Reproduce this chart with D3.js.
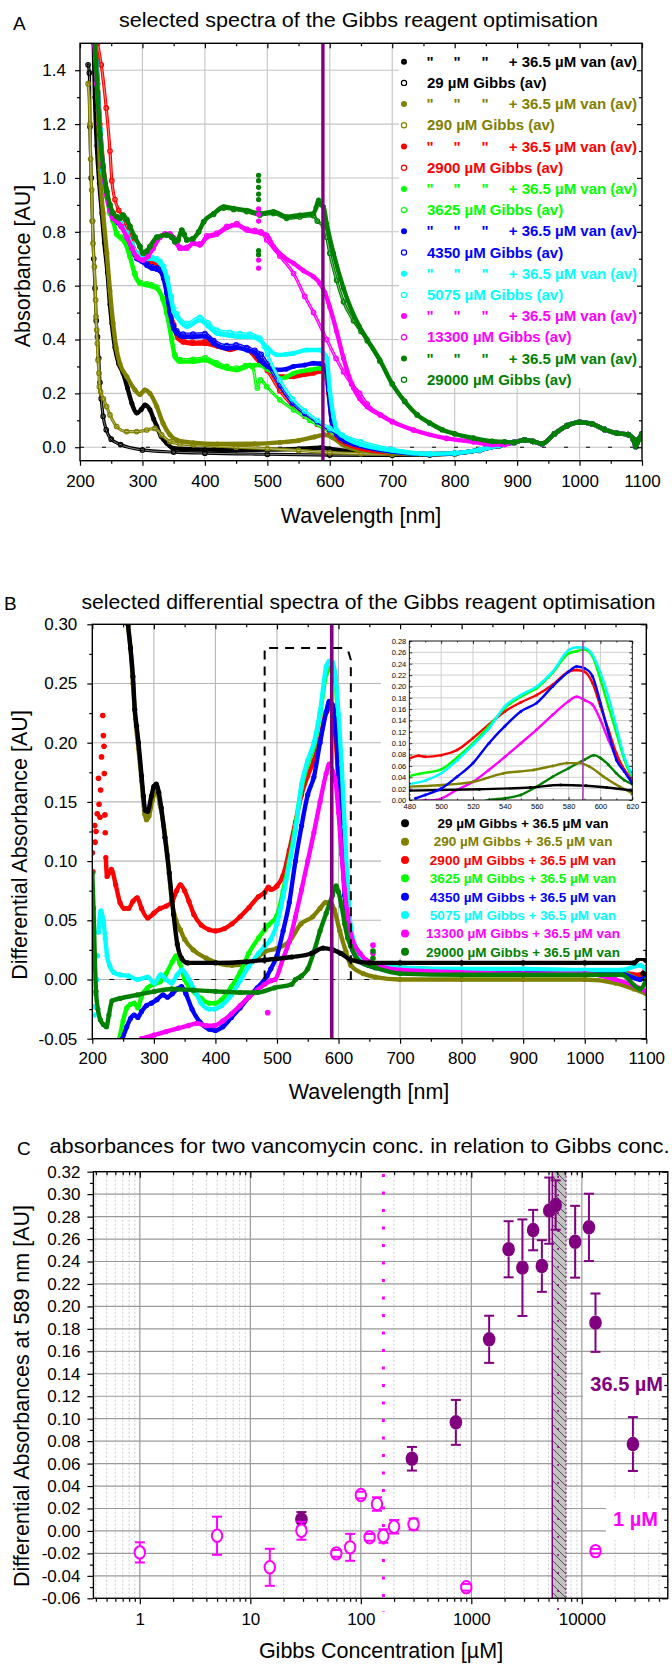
<!DOCTYPE html>
<html>
<head>
<meta charset="utf-8">
<script src="https://cdn.jsdelivr.net/npm/d3@7"></script>
<style>
  body { margin: 0; background: #fff; }
  svg text { font-family: "Liberation Sans", Arial, Helvetica, sans-serif; }
  .tk text { font-size: 17px; fill: #000; }
  .tk line { stroke: #000; stroke-width: 1.2; }
  .tks text { font-size: 7.5px; fill: #000; }
  .tks line { stroke: #000; stroke-width: 0.8; }
</style>
</head>
<body>
<script>
// ---------- shared series definitions ----------
const gibbsConc = [29, 290, 2900, 3625, 4350, 5075, 13300, 29000];
const seriesColors = ["#000000", "#808000", "#ff0000", "#00ff00", "#0000ff", "#00ffff", "#ff00ff", "#008000"];
const vanConc = 36.5;
const markWl = 589;

// ---------- panel A: absorbance spectra [wavelength nm, absorbance AU] ----------
// near-IR region where all sixteen spectra coincide
const nirShared = [[895,0.018],[912,0.027],[925,0.022],[940,0.013],[960,0.05],[980,0.08],[1000,0.093],[1020,0.087],[1040,0.066],[1060,0.052],[1078,0.047],[1086,0.03],[1090,0.003],[1095,0.03],[1100,0.05]];

const specVan29 = [[222,1.5],[224,1.3],[227,1.12],[231,0.98],[235,0.87],[239,0.76],[244,0.65],[248,0.53],[251,0.46],[256,0.37],[262,0.31],[269,0.275],[276,0.22],[283,0.163],[291,0.127],[298,0.14],[304,0.157],[312,0.139],[318,0.105],[323,0.077],[330,0.04],[339,0.015],[349,-0.004],[400,-0.009],[450,-0.01],[500,-0.009],[550,-0.006],[585,-0.002],[600,-0.006],[640,-0.016],[700,-0.022],[760,-0.026],[800,-0.023],[840,-0.01],[870,0.006]];
const specGibbs29 = [[213,1.42],[215,1.39],[216,1.19],[218,1.0],[220,0.84],[222,0.7],[224,0.59],[226,0.47],[228,0.41],[230,0.33],[232,0.24],[234,0.18],[237,0.115],[242,0.065],[250,0.03],[265,0.01],[300,-0.01],[350,-0.018],[400,-0.022],[500,-0.026],[600,-0.029],[700,-0.03],[760,-0.029],[800,-0.025],[840,-0.012],[870,0.004]];
const specVan290 = [[226,1.5],[229,1.25],[232,1.03],[237,0.87],[243,0.72],[248,0.58],[253,0.46],[258,0.37],[264,0.31],[275,0.262],[288,0.213],[296,0.196],[304,0.213],[312,0.2],[323,0.151],[333,0.089],[344,0.046],[355,0.027],[381,0.017],[420,0.012],[480,0.013],[520,0.018],[550,0.025],[575,0.038],[592,0.046],[605,0.035],[620,0.01],[650,-0.012],[700,-0.02],[760,-0.025],[800,-0.023],[840,-0.01],[870,0.006]];
const specGibbs290 = [[213,1.35],[216,1.2],[217,1.07],[218.7,0.955],[219.8,0.84],[220.8,0.757],[223,0.67],[225,0.547],[225.6,0.485],[226.7,0.435],[227.8,0.386],[228.8,0.324],[230.4,0.275],[231,0.225],[233,0.206],[237.4,0.18],[242.7,0.151],[248,0.12],[258.7,0.077],[274.7,0.058],[290.8,0.058],[306.8,0.064],[320,0.07],[330.8,0.046],[344,0.021],[360,0.012],[381.5,0.009],[450,0.0],[500,-0.005],[550,-0.012],[600,-0.02],[650,-0.024],[700,-0.026],[760,-0.027],[800,-0.024],[840,-0.011],[870,0.005]];
const specVan2900 = [[225,1.5],[228,1.36],[232,1.2],[237,1.05],[243,0.95],[248,0.89],[253,0.86],[260,0.845],[266,0.83],[275,0.795],[283,0.75],[291,0.71],[299,0.695],[307,0.69],[315,0.685],[323,0.68],[328,0.67],[334,0.635],[339,0.58],[344,0.51],[350,0.45],[357,0.405],[365,0.39],[380,0.385],[400,0.385],[420,0.375],[440,0.362],[456,0.37],[470,0.36],[488,0.315],[500,0.29],[510,0.27],[525,0.262],[542,0.262],[560,0.27],[574,0.275],[585,0.282],[590,0.28],[595,0.255],[598,0.2],[603,0.1],[608,0.055],[615,0.03],[625,0.015],[650,-0.005],[700,-0.02],[760,-0.026],[800,-0.023],[840,-0.01],[870,0.006]];
const specGibbs2900 = [[228,1.5],[234,1.42],[242,1.26],[248,1.1],[251,0.99],[256,0.92],[262,0.88],[268,0.86],[275,0.82],[283,0.765],[291,0.72],[299,0.7],[307,0.695],[315,0.69],[323,0.685],[328,0.675],[334,0.64],[339,0.585],[344,0.515],[350,0.455],[357,0.41],[365,0.395],[380,0.39],[400,0.392],[420,0.382],[440,0.37],[456,0.375],[470,0.365],[480,0.35],[490,0.32],[500,0.285],[520,0.21],[540,0.155],[560,0.115],[580,0.085],[600,0.058],[620,0.035],[650,0.01],[700,-0.015],[760,-0.025],[800,-0.022],[840,-0.01],[870,0.006]];
const specVan3625 = [[224,1.5],[228,1.34],[232,1.17],[237,1.02],[243,0.93],[248,0.87],[253,0.84],[259,0.79],[266,0.775],[272,0.76],[280,0.707],[288,0.64],[296,0.608],[307,0.602],[315,0.598],[323,0.59],[333,0.547],[339,0.497],[347,0.398],[352,0.336],[360,0.318],[381,0.318],[400,0.324],[419,0.305],[435,0.293],[451,0.287],[465,0.298],[472,0.305],[488,0.305],[500,0.29],[510,0.275],[520,0.255],[530,0.26],[542,0.275],[568,0.287],[584,0.293],[590,0.283],[595,0.26],[598,0.225],[603,0.126],[611,0.052],[622,0.027],[648,0.009],[700,-0.018],[760,-0.026],[800,-0.023],[840,-0.01],[870,0.006]];
const specGibbs3625 = [[224,1.5],[228,1.34],[232,1.17],[237,1.02],[243,0.93],[248,0.87],[253,0.84],[259,0.795],[266,0.78],[272,0.765],[280,0.712],[288,0.645],[296,0.612],[307,0.607],[315,0.603],[323,0.595],[333,0.552],[339,0.502],[347,0.405],[352,0.343],[360,0.325],[381,0.326],[400,0.332],[419,0.313],[435,0.3],[451,0.294],[465,0.303],[476,0.3],[484,0.22],[489,0.25],[499,0.225],[520,0.176],[542,0.139],[568,0.1],[590,0.07],[622,0.033],[648,0.015],[700,-0.012],[760,-0.025],[800,-0.023],[840,-0.01],[870,0.006]];
const specVan4350 = [[224,1.5],[228,1.35],[232,1.18],[237,1.03],[243,0.94],[248,0.885],[253,0.855],[260,0.835],[266,0.82],[275,0.785],[283,0.74],[291,0.7],[299,0.69],[307,0.675],[315,0.665],[323,0.66],[328,0.655],[334,0.625],[339,0.57],[344,0.5],[350,0.44],[355,0.423],[365,0.41],[381,0.41],[400,0.412],[414,0.386],[435,0.367],[450,0.37],[467,0.361],[480,0.35],[488,0.324],[500,0.3],[515,0.287],[530,0.29],[542,0.3],[560,0.305],[574,0.312],[585,0.31],[590,0.305],[595,0.28],[598,0.213],[603,0.1],[611,0.046],[625,0.022],[640,0.01],[700,-0.016],[760,-0.026],[800,-0.023],[840,-0.01],[870,0.006]];
const specGibbs4350 = [[224,1.5],[228,1.35],[232,1.18],[237,1.03],[243,0.94],[248,0.885],[253,0.86],[260,0.84],[266,0.825],[275,0.79],[283,0.745],[291,0.705],[299,0.695],[307,0.68],[315,0.67],[323,0.665],[328,0.66],[334,0.63],[339,0.575],[344,0.508],[350,0.448],[355,0.432],[365,0.42],[381,0.42],[400,0.422],[414,0.396],[435,0.377],[450,0.38],[467,0.37],[480,0.36],[490,0.345],[500,0.31],[520,0.23],[540,0.165],[560,0.125],[580,0.095],[600,0.065],[620,0.04],[650,0.015],[700,-0.01],[760,-0.025],[800,-0.022],[840,-0.01],[870,0.006]];
const specVan5075 = [[224,1.5],[228,1.35],[232,1.18],[237,1.03],[243,0.94],[248,0.885],[253,0.86],[260,0.84],[266,0.825],[275,0.79],[283,0.75],[291,0.715],[299,0.705],[307,0.7],[315,0.7],[323,0.695],[328,0.685],[334,0.665],[340,0.62],[346,0.55],[350,0.505],[355,0.485],[371,0.448],[392,0.472],[405,0.45],[419,0.423],[440,0.415],[456,0.41],[472,0.41],[488,0.398],[500,0.37],[515,0.343],[530,0.345],[542,0.349],[563,0.361],[584,0.361],[590,0.35],[595,0.33],[600,0.213],[606,0.114],[611,0.064],[627,0.033],[650,0.01],[700,-0.012],[760,-0.025],[800,-0.022],[840,-0.01],[870,0.006]];
const specGibbs5075 = [[224,1.5],[228,1.35],[232,1.18],[237,1.03],[243,0.94],[248,0.885],[253,0.86],[260,0.845],[266,0.83],[275,0.795],[283,0.755],[291,0.72],[299,0.71],[307,0.705],[315,0.705],[323,0.7],[328,0.69],[334,0.672],[340,0.628],[346,0.56],[350,0.515],[355,0.495],[371,0.46],[392,0.482],[405,0.462],[419,0.435],[440,0.427],[456,0.422],[472,0.42],[488,0.405],[495,0.375],[500,0.345],[520,0.25],[540,0.18],[560,0.135],[580,0.1],[600,0.07],[620,0.045],[650,0.02],[700,-0.008],[760,-0.024],[800,-0.022],[840,-0.01],[870,0.006]];
const specVan13300 = [[223,1.5],[227,1.35],[231,1.2],[236,1.05],[242,0.94],[248,0.88],[253,0.85],[259,0.84],[266,0.82],[275,0.78],[283,0.74],[291,0.707],[301,0.695],[309,0.71],[317,0.738],[328,0.78],[336,0.79],[344,0.79],[350,0.775],[355,0.757],[360,0.738],[371,0.738],[381,0.757],[392,0.75],[403,0.78],[419,0.79],[435,0.815],[451,0.825],[467,0.806],[480,0.8],[490,0.795],[499,0.788],[510,0.745],[526,0.707],[542,0.683],[558,0.655],[574,0.633],[584,0.609],[592,0.575],[600,0.52],[611,0.43],[622,0.33],[638,0.22],[648,0.18],[660,0.15],[681,0.12],[700,0.095],[734,0.064],[787,0.033],[830,0.02],[860,0.01],[880,0.01]];
const specGibbs13300 = [[223,1.5],[227,1.35],[231,1.2],[236,1.05],[242,0.94],[248,0.88],[253,0.85],[259,0.84],[266,0.82],[275,0.78],[283,0.74],[291,0.707],[301,0.695],[309,0.71],[317,0.738],[328,0.78],[336,0.792],[344,0.792],[350,0.778],[355,0.76],[360,0.742],[371,0.742],[381,0.76],[392,0.755],[403,0.785],[419,0.795],[435,0.82],[451,0.83],[467,0.81],[480,0.805],[490,0.8],[499,0.77],[520,0.71],[542,0.645],[560,0.56],[574,0.5],[595,0.4],[610,0.33],[622,0.28],[635,0.235],[648,0.2],[660,0.16],[681,0.12],[700,0.095],[734,0.064],[787,0.033],[830,0.02],[860,0.01],[880,0.01]];
const specVan29000 = [[224,1.5],[228,1.32],[232,1.16],[237,1.04],[243,0.95],[248,0.9],[253,0.87],[259,0.856],[264,0.85],[269,0.862],[275,0.845],[280,0.82],[288,0.78],[296,0.745],[301,0.72],[307,0.728],[312,0.745],[323,0.78],[339,0.788],[347,0.78],[352,0.763],[357,0.77],[363,0.806],[367,0.79],[371,0.77],[381,0.775],[390,0.8],[398,0.837],[414,0.868],[430,0.893],[446,0.887],[467,0.88],[488,0.868],[510,0.875],[531,0.856],[552,0.862],[574,0.868],[578,0.89],[582,0.918],[586,0.9],[590,0.893],[595,0.83],[606,0.72],[622,0.59],[647,0.45],[660,0.4],[680,0.325],[700,0.235],[720,0.17],[740,0.12],[760,0.09],[780,0.065],[800,0.05],[830,0.034],[860,0.022],[880,0.02]];
const specGibbs29000 = [[224,1.5],[228,1.32],[232,1.16],[237,1.04],[243,0.95],[248,0.9],[253,0.87],[259,0.856],[264,0.85],[269,0.862],[275,0.845],[280,0.82],[288,0.78],[296,0.745],[301,0.72],[307,0.728],[312,0.745],[323,0.78],[339,0.788],[347,0.78],[352,0.763],[357,0.77],[363,0.806],[367,0.79],[371,0.77],[381,0.775],[390,0.8],[398,0.837],[414,0.865],[430,0.888],[446,0.883],[467,0.875],[488,0.862],[510,0.868],[531,0.85],[552,0.855],[574,0.86],[580,0.84],[590,0.82],[595,0.78],[600,0.72],[611,0.62],[622,0.54],[638,0.47],[650,0.43],[660,0.395],[680,0.32],[700,0.235],[720,0.17],[740,0.12],[760,0.09],[780,0.065],[800,0.05],[830,0.034],[860,0.022],[880,0.02]];
// detector glitch at 486 nm
const glitchA29000 = [[486,1.01],[486,0.99],[486,0.965],[486,0.94],[486,0.92],[486,0.73],[486,0.715]];
const glitchA13300 = [[486,0.885],[486,0.865],[486,0.84],[486,0.695],[486,0.665]];

// ---------- panel B: differential spectra [wavelength nm, dAbs AU] ----------
const diff29 = [[254,0.33],[258,0.3],[262,0.28],[266,0.256],[269,0.228],[272,0.214],[275,0.2],[280,0.172],[283,0.155],[286,0.143],[290,0.142],[296,0.155],[300,0.163],[304,0.165],[308,0.158],[312,0.145],[318,0.12],[325,0.09],[332,0.055],[338,0.03],[345,0.018],[355,0.014],[400,0.014],[450,0.015],[480,0.0165],[524,0.019],[556,0.022],[575,0.0265],[591,0.025],[604,0.022],[620,0.0165],[650,0.014],[700,0.014],[800,0.014],[900,0.014],[1000,0.014],[1080,0.014],[1090,0.018],[1100,0.016]];
const diff290 = [[252,0.33],[258,0.3],[262,0.28],[266,0.25],[270,0.22],[275,0.195],[280,0.168],[285,0.14],[288,0.135],[292,0.138],[298,0.152],[304,0.16],[310,0.148],[316,0.13],[322,0.105],[329,0.067],[336,0.05],[343,0.042],[350,0.034],[364,0.025],[385,0.018],[427,0.012],[460,0.015],[480,0.0235],[499,0.026],[520,0.032],[539,0.047],[558,0.053],[570,0.06],[579,0.065],[587,0.065],[593,0.059],[602,0.041],[612,0.0235],[620,0.012],[640,0.005],[660,0.002],[700,0.0],[800,0.0],[900,0.0],[1000,0.0],[1050,-0.003],[1080,-0.008],[1100,-0.012]];
const diff2900 = [[222,0.103],[224,0.087],[231,0.093],[238,0.08],[245,0.065],[252,0.06],[259,0.06],[266,0.066],[273,0.069],[280,0.06],[290,0.052],[300,0.056],[310,0.06],[320,0.062],[330,0.066],[337,0.075],[343,0.08],[350,0.075],[357,0.066],[365,0.055],[377,0.046],[390,0.042],[400,0.041],[415,0.043],[427,0.047],[440,0.053],[455,0.061],[470,0.07],[480,0.0735],[486,0.078],[490,0.076],[500,0.079],[510,0.088],[520,0.109],[530,0.133],[540,0.156],[550,0.172],[560,0.185],[570,0.203],[580,0.226],[585,0.229],[590,0.226],[595,0.206],[600,0.165],[605,0.124],[610,0.082],[615,0.053],[620,0.032],[635,0.018],[660,0.012],[700,0.01],[800,0.008],[900,0.007],[1000,0.007],[1060,0.006],[1090,0.004],[1100,0.01]];
const scatter2900 = [[200,0.107],[201,0.091],[204,0.13],[204.5,0.116],[206,0.125],[208,0.14],[210,0.17],[211,0.148],[212.5,0.137],[213.5,0.16],[215,0.188],[217,0.223],[218,0.206],[219,0.197],[219.5,0.174],[220.5,0.139],[221,0.124]];
const diff3625 = [[244,-0.05],[250,-0.035],[256,-0.024],[262,-0.021],[268,-0.02],[274,-0.024],[280,-0.014],[290,-0.007],[300,-0.004],[310,-0.002],[320,0.005],[330,0.015],[336,0.02],[342,0.014],[350,0.0],[360,-0.008],[377,-0.016],[390,-0.02],[400,-0.02],[410,-0.017],[426,-0.006],[440,0.006],[454,0.022],[470,0.035],[480,0.042],[486,0.046],[500,0.054],[510,0.075],[520,0.1],[530,0.13],[540,0.162],[550,0.182],[560,0.197],[570,0.224],[580,0.258],[585,0.262],[590,0.265],[595,0.253],[600,0.212],[605,0.165],[610,0.118],[615,0.071],[620,0.041],[630,0.025],[650,0.015],[700,0.01],[800,0.008],[900,0.007],[1000,0.007],[1060,0.006],[1090,0.0],[1100,0.005]];
const diff4350 = [[249,-0.05],[256,-0.04],[262,-0.033],[268,-0.03],[274,-0.032],[280,-0.027],[288,-0.022],[296,-0.02],[305,-0.017],[315,-0.013],[322,-0.015],[330,-0.012],[338,-0.008],[345,-0.006],[352,-0.012],[362,-0.025],[375,-0.036],[390,-0.042],[400,-0.043],[412,-0.04],[426,-0.032],[440,-0.024],[454,-0.015],[468,-0.007],[484,0.003],[490,0.009],[500,0.02],[510,0.041],[520,0.065],[530,0.1],[540,0.13],[550,0.156],[560,0.171],[570,0.2],[580,0.226],[585,0.235],[590,0.232],[595,0.218],[600,0.171],[605,0.118],[610,0.071],[615,0.05],[620,0.029],[635,0.015],[660,0.01],[700,0.007],[800,0.006],[900,0.006],[1000,0.006],[1060,0.005],[1090,0.0],[1100,0.004]];
const diff5075 = [[210,0.04],[214,0.058],[218,0.05],[221,0.035],[224,0.02],[228,0.012],[235,0.006],[245,0.004],[259,0.003],[273,0.0],[290,0.002],[301,-0.003],[311,0.004],[320,0.0],[329,-0.003],[338,0.004],[346,0.008],[357,0.0],[367,-0.01],[377,-0.02],[390,-0.025],[398,-0.025],[410,-0.022],[426,-0.013],[440,-0.001],[454,0.011],[470,0.022],[480,0.028],[490,0.034],[500,0.047],[510,0.07],[520,0.097],[530,0.126],[540,0.165],[550,0.185],[560,0.2],[570,0.226],[580,0.264],[585,0.269],[590,0.268],[595,0.256],[600,0.224],[605,0.182],[610,0.129],[615,0.076],[620,0.044],[635,0.02],[660,0.012],[700,0.01],[800,0.009],[900,0.009],[1000,0.008],[1060,0.008],[1090,0.012],[1100,0.008]];
const scatter5075 = [[201,-0.023],[203,-0.03],[205,-0.012],[207,0.0],[208,0.02]];
const diff13300 = [[280,-0.05],[300,-0.047],[320,-0.044],[340,-0.041],[356,-0.039],[370,-0.037],[385,-0.039],[398,-0.039],[412,-0.035],[426,-0.029],[440,-0.022],[454,-0.015],[468,-0.009],[480,-0.004],[490,-0.001],[497,0.0],[510,0.018],[520,0.032],[530,0.053],[540,0.076],[550,0.1],[560,0.124],[570,0.15],[580,0.174],[585,0.182],[590,0.176],[595,0.168],[600,0.141],[605,0.106],[610,0.076],[615,0.053],[620,0.038],[635,0.022],[650,0.015],[700,0.008],[800,0.006],[900,0.005],[1000,0.005],[1050,0.0],[1080,-0.005],[1100,-0.01]];
const scatter13300 = [[485,-0.028],[656,0.029],[656,0.022]];
const diff29000 = [[200,0.09],[202,0.06],[204,0.02],[206,-0.01],[209,-0.025],[213,-0.034],[218,-0.038],[223,-0.04],[227,-0.03],[232,-0.018],[245,-0.016],[273,-0.013],[301,-0.01],[329,-0.008],[364,-0.009],[400,-0.01],[440,-0.011],[468,-0.011],[496,-0.007],[524,-0.004],[530,0.0],[540,0.003],[550,0.009],[560,0.0235],[570,0.041],[580,0.056],[590,0.071],[596,0.079],[600,0.074],[605,0.062],[610,0.047],[615,0.035],[620,0.028],[635,0.015],[660,0.01],[700,0.005],[800,0.004],[900,0.004],[1000,0.004],[1060,0.004],[1090,-0.008],[1100,0.0]];
const scatter29000 = [[656,0.024],[656,0.018]];
const scatter29 = [[1088,0.02],[1092,0.025],[1095,0.005],[1098,0.022]];

// ---------- panel C: dAbs at 589 nm vs Gibbs concentration ----------
const concVan36 = [29, 290, 725, 1450, 2175, 2900, 3625, 4350, 5075, 5800, 8700, 11600, 13300, 29000];
const absVan36  = [0.0103, 0.0643, 0.0967, 0.1707, 0.2509, 0.2345, 0.268, 0.236, 0.2853, 0.2903, 0.2576, 0.2704, 0.1855, 0.0774];
const errVan36  = [0.0065, 0.0105, 0.020, 0.021, 0.025, 0.043, 0.018, 0.023, 0.0295, 0.022, 0.032, 0.030, 0.026, 0.024];
const concVan1 = [1, 5, 15, 29, 60, 80, 100, 120, 140, 160, 200, 300, 900, 13300];
const absVan1  = [-0.0191, -0.0043, -0.0324, 0.0002, -0.020, -0.0146, 0.032, -0.0057, 0.024, -0.0045, 0.0037, 0.006, -0.0502, -0.018];
const errVan1  = [0.009, 0.017, 0.0165, 0.008, 0.003, 0.012, 0.003, 0.003, 0.006, 0.006, 0.006, 0.005, 0.003, 0.002];
const optimumBand = [5400, 7200];
const optimumCentre = 6100;
const thresholdConc = 160;

// ---------- drawing helpers ----------
const svg = d3.select("body").append("svg").attr("width", 672).attr("height", 1666);
const defs = svg.append("defs");

function clip(id, x0, y0, x1, y1) {
  defs.append("clipPath").attr("id", id).append("rect")
    .attr("x", x0).attr("y", y0).attr("width", x1 - x0).attr("height", y1 - y0);
  return `url(#${id})`;
}

function addText(g, x, y, str, o = {}) {
  const t = g.append("text").attr("x", x).attr("y", y).text(str)
    .attr("font-size", o.size || 17).attr("fill", o.fill || "#000")
    .attr("text-anchor", o.anchor || "start");
  if (o.bold) t.attr("font-weight", "bold");
  if (o.len) t.attr("textLength", o.len).attr("lengthAdjust", "spacingAndGlyphs");
  if (o.rot) t.attr("transform", `rotate(${o.rot},${x},${y})`);
  return t;
}

function plotSeries(layer, data, sx, sy, color, st) {
  const line = d3.line().x(d => sx(d[0])).y(d => sy(d[1])).curve(d3.curveMonotoneX);
  layer.append("path").attr("d", line(data)).attr("fill", "none").attr("stroke", color)
    .attr("stroke-width", st.w).attr("stroke-linejoin", "round").attr("stroke-linecap", "round");
  if (st.core) {
    layer.append("path").attr("d", line(data)).attr("fill", "none").attr("stroke", "#fff")
      .attr("stroke-opacity", 0.5).attr("stroke-width", st.core);
  }
  plotDots(layer, data, sx, sy, color, st);
}

function plotDots(layer, data, sx, sy, color, st) {
  layer.append("g").selectAll("circle").data(data).join("circle")
    .attr("cx", d => sx(d[0])).attr("cy", d => sy(d[1])).attr("r", st.r)
    .attr("fill", st.hollow ? "none" : color)
    .attr("stroke", st.hollow ? color : "none").attr("stroke-width", 1.1);
}

function axes(g, sx, sy, o) {
  const [x0, x1] = sx.range(), [yb, yt] = sy.range();
  const strip = s => s.select(".domain").remove();
  const cls = o.small ? "tks" : "tk";
  const T = o.tick, t = o.minorTick;
  g.append("g").attr("class", cls).attr("transform", `translate(0,${yb})`)
    .call(d3.axisBottom(sx).tickValues(o.xMajor).tickSize(o.xOut ? T : -T).tickPadding(o.xPad).tickFormat(o.xFmt)).call(strip);
  g.append("g").attr("class", cls).attr("transform", `translate(0,${yb})`)
    .call(d3.axisBottom(sx).tickValues(o.xMinor).tickSize(o.xOut ? t : -t).tickFormat("")).call(strip);
  g.append("g").attr("class", cls).attr("transform", `translate(0,${yt})`)
    .call(d3.axisTop(sx).tickValues(o.xMajor).tickSize(-T).tickFormat("")).call(strip);
  g.append("g").attr("class", cls).attr("transform", `translate(0,${yt})`)
    .call(d3.axisTop(sx).tickValues(o.xMinor).tickSize(-t).tickFormat("")).call(strip);
  g.append("g").attr("class", cls).attr("transform", `translate(${x0},0)`)
    .call(d3.axisLeft(sy).tickValues(o.yMajor).tickSize(o.yOut ? T : -T).tickPadding(o.yPad).tickFormat(o.yFmt)).call(strip);
  g.append("g").attr("class", cls).attr("transform", `translate(${x0},0)`)
    .call(d3.axisLeft(sy).tickValues(o.yMinor).tickSize(o.yOut ? t : -t).tickFormat("")).call(strip);
  g.append("g").attr("class", cls).attr("transform", `translate(${x1},0)`)
    .call(d3.axisRight(sy).tickValues(o.yMajor).tickSize(-T).tickFormat("")).call(strip);
  g.append("g").attr("class", cls).attr("transform", `translate(${x1},0)`)
    .call(d3.axisRight(sy).tickValues(o.yMinor).tickSize(-t).tickFormat("")).call(strip);
  g.append("rect").attr("x", x0).attr("y", yt).attr("width", x1 - x0).attr("height", yb - yt)
    .attr("fill", "none").attr("stroke", "#000").attr("stroke-width", o.small ? 0.9 : 1.4);
}

function grid(g, sx, sy, xs, ys, color, width, dash) {
  const [x0, x1] = sx.range(), [yb, yt] = sy.range();
  g.append("g").selectAll("line").data(xs).join("line")
    .attr("x1", d => sx(d)).attr("x2", d => sx(d)).attr("y1", yt).attr("y2", yb)
    .attr("stroke", color).attr("stroke-width", width).attr("stroke-dasharray", dash || null);
  g.append("g").selectAll("line").data(ys).join("line")
    .attr("y1", d => sy(d)).attr("y2", d => sy(d)).attr("x1", x0).attr("x2", x1)
    .attr("stroke", color).attr("stroke-width", width).attr("stroke-dasharray", dash || null);
}

const nm = d3.range(200, 1101, 100);
const nmMinor = d3.range(250, 1100, 100);
const f1 = d => d.toFixed(1), f2 = d => d.toFixed(2);

// =================== PANEL A ===================
const xA = d3.scaleLinear([200, 1100], [80, 642]);
const yA = d3.scaleLinear([-0.05, 1.5], [460.7, 43.3]);
const gA = svg.append("g");
grid(gA, xA, yA, d3.range(300, 1001, 100), d3.range(0, 8).map(i => i * 0.2), "#c4c4c4", 1.1);
gA.append("line").attr("x1", xA(200)).attr("x2", xA(1100)).attr("y1", yA(0)).attr("y2", yA(0))
  .attr("stroke", "#000").attr("stroke-width", 1).attr("stroke-dasharray", "4,18");

const dataA = gA.append("g").attr("clip-path", clip("clipA", 80, 43.3, 642, 460.7));
const pairsA = [
  [specGibbs29, specVan29], [specGibbs290, specVan290], [specGibbs2900, specVan2900],
  [specGibbs3625, specVan3625], [specGibbs4350, specVan4350], [specGibbs5075, specVan5075],
  [specGibbs13300, specVan13300], [specGibbs29000, specVan29000]
];
pairsA.forEach(([open, filled], i) => {
  const c = seriesColors[i];
  plotSeries(dataA, open.concat(nirShared), xA, yA, c, { w: 3.2, core: 1.0, r: 2.3, hollow: true });
  plotSeries(dataA, filled.concat(nirShared), xA, yA, c, { w: 4.4, r: 2.5 });
});
plotDots(dataA, glitchA13300, xA, yA, seriesColors[6], { r: 2.6 });
plotDots(dataA, glitchA29000, xA, yA, seriesColors[7], { r: 2.6 });
dataA.append("line").attr("x1", xA(markWl)).attr("x2", xA(markWl)).attr("y1", 43.3).attr("y2", 460.7)
  .attr("stroke", "#800080").attr("stroke-width", 3.4);

// legend A
const legA = gA.append("g");
legA.append("rect").attr("x", 399).attr("y", 44).attr("width", 242).attr("height", 344).attr("fill", "#fff");
gibbsConc.forEach((conc, i) => {
  const c = seriesColors[i];
  const yv = 61.7 + (2 * i) * 21.2, yg = yv + 21.2;
  legA.append("circle").attr("cx", 404).attr("cy", yv).attr("r", 3).attr("fill", c);
  [430, 457, 485].forEach(qx => addText(legA, qx, yv + 5, "\"", { size: 15, bold: true, fill: c, anchor: "middle" }));
  addText(legA, 637, yv + 5, `+ ${vanConc} µM van (av)`, { size: 15, bold: true, fill: c, anchor: "end" });
  legA.append("circle").attr("cx", 404).attr("cy", yg).attr("r", 2.6).attr("fill", "none").attr("stroke", c).attr("stroke-width", 1.2);
  addText(legA, 427, yg + 5, `${conc} µM Gibbs (av)`, { size: 15, bold: true, fill: c });
});

axes(gA, xA, yA, {
  tick: 5, minorTick: 3, xOut: true, yOut: true, xPad: 9, yPad: 9,
  xMajor: nm, xMinor: nmMinor, xFmt: d => d,
  yMajor: d3.range(0, 8).map(i => i * 0.2), yMinor: d3.range(0, 15).map(i => i * 0.2 + 0.1).filter(v => v < 1.5), yFmt: f1
});
addText(svg, 13, 30, "A", { size: 19 });
addText(svg, 119, 27, "selected spectra of the Gibbs reagent optimisation", { size: 21, len: 479 });
addText(svg, 361, 523, "Wavelength [nm]", { size: 21.5, anchor: "middle" });
addText(svg, 30, 266, "Absorbance [AU]", { size: 21.5, anchor: "middle", rot: -90 });

// =================== PANEL B ===================
const xB = d3.scaleLinear([200, 1100], [92.3, 646.3]);
const yB = d3.scaleLinear([-0.05, 0.30], [1038.7, 624.3]);
const gB = svg.append("g");
grid(gB, xB, yB, d3.range(300, 1001, 100), d3.range(0, 6).map(i => i * 0.05), "#b8b8b8", 1.1);
gB.append("line").attr("x1", xB(200)).attr("x2", xB(720)).attr("y1", yB(0)).attr("y2", yB(0))
  .attr("stroke", "#000").attr("stroke-width", 1.2).attr("stroke-dasharray", "5,12");

const diffSeries = [diff29, diff290, diff2900, diff3625, diff4350, diff5075, diff13300, diff29000];
const scattersB = [scatter29, [], scatter2900, [], [], scatter5075, scatter13300, scatter29000];
const dataB = gB.append("g").attr("clip-path", clip("clipB", 92.3, 624.3, 646.3, 1038.7));
// black is drawn last so it sits on top, as in the original plot
[1, 2, 3, 4, 5, 6, 7, 0].forEach(i => {
  plotSeries(dataB, diffSeries[i], xB, yB, seriesColors[i], { w: 4.4, r: 2.6 });
  plotDots(dataB, scattersB[i], xB, yB, seriesColors[i], { r: 2.8 });
});
dataB.append("line").attr("x1", xB(markWl)).attr("x2", xB(markWl)).attr("y1", 624.3).attr("y2", 1038.7)
  .attr("stroke", "#800080").attr("stroke-width", 3.6);
// zoom window marker
gB.append("path")
  .attr("d", `M${xB(480)},${yB(0)} V${yB(0.28)} H${xB(612)} M${xB(616)},${yB(0.277)} L${xB(620)},${yB(0.27)} V${yB(0)}`)
  .attr("fill", "none").attr("stroke", "#000").attr("stroke-width", 2).attr("stroke-dasharray", "9,7");

// legend / inset area
gB.append("rect").attr("x", 381).attr("y", 625).attr("width", 264.5).attr("height", 333).attr("fill", "#fff");
axes(gB, xB, yB, {
  tick: 5, minorTick: 3, xOut: true, yOut: true, xPad: 8, yPad: 10,
  xMajor: nm, xMinor: nmMinor, xFmt: d => d,
  yMajor: d3.range(-1, 7).map(i => i * 0.05), yMinor: d3.range(-1, 6).map(i => i * 0.05 + 0.025), yFmt: f2
});

// inset: 480-620 nm
const xI = d3.scaleLinear([480, 620], [409.3, 632.3]);
const yI = d3.scaleLinear([0, 0.28], [800, 641]);
const gI = gB.append("g");
grid(gI, xI, yI, d3.range(500, 601, 20), d3.range(1, 14).map(i => i * 0.02), "#cfcfcf", 1);
const dataI = gI.append("g").attr("clip-path", clip("clipI", 409.3, 641, 632.3, 800));
[7, 6, 1, 0, 2, 4, 3, 5].forEach(i => {
  const part = diffSeries[i].filter(d => d[0] >= 470 && d[0] <= 630);
  plotSeries(dataI, part, xI, yI, seriesColors[i], { w: 2.4, r: 1.5 });
});
dataI.append("line").attr("x1", xI(markWl)).attr("x2", xI(markWl)).attr("y1", 641).attr("y2", 800)
  .attr("stroke", "#a040a8").attr("stroke-width", 1.6);
axes(gI, xI, yI, {
  small: true, tick: 3, minorTick: 1.5, xOut: false, yOut: false, xPad: 4, yPad: 3,
  xMajor: d3.range(480, 621, 20), xMinor: d3.range(490, 620, 20), xFmt: d => d,
  yMajor: d3.range(0, 15).map(i => i * 0.02), yMinor: d3.range(0, 14).map(i => i * 0.02 + 0.01), yFmt: f2
});

// legend B
const legB = gB.append("g");
gibbsConc.forEach((conc, i) => {
  const cy = 823.3 + i * 18.35;
  legB.append("circle").attr("cx", 405).attr("cy", cy).attr("r", 4).attr("fill", seriesColors[i]);
  addText(legB, 523, cy + 4.8, `${conc} µM Gibbs + ${vanConc} µM van`, { size: 13.5, bold: true, fill: seriesColors[i], anchor: "middle" });
});

addText(svg, 4, 610, "B", { size: 19 });
addText(svg, 81.5, 609, "selected differential spectra of the Gibbs reagent optimisation", { size: 21, len: 574 });
addText(svg, 369, 1099, "Wavelength [nm]", { size: 21.5, anchor: "middle" });
addText(svg, 27, 845, "Differential Absorbance [AU]", { size: 21.5, anchor: "middle", rot: -90 });

// =================== PANEL C ===================
const xC = d3.scaleLog([0.38, 60000], [93.4, 667.8]);
const yC = d3.scaleLinear([-0.06, 0.32], [1598.3, 1171.7]);
const gC = svg.append("g");
const decades = [1, 10, 100, 1000, 10000];
const minorLog = [];
[0.1, 1, 10, 100, 1000, 10000].forEach(p => d3.range(2, 10).forEach(k => {
  const v = k * p;
  if (v > 0.38 && v < 60000) minorLog.push(v);
}));
const yMajC = d3.range(-3, 17).map(i => i * 0.02);
grid(gC, xC, yC, minorLog, [], "#c8c8c8", 0.9, "2,2");
grid(gC, xC, yC, decades, yMajC.slice(1, -1), "#9a9a9a", 1.2);

// optimum Gibbs concentration band
const hatch = defs.append("pattern").attr("id", "hatch").attr("patternUnits", "userSpaceOnUse")
  .attr("width", 8).attr("height", 8);
hatch.append("rect").attr("width", 8).attr("height", 8).attr("fill", "#c2c2c2");
hatch.append("path").attr("d", "M0,0 L8,8 M-2,6 L2,10 M6,-2 L10,2").attr("stroke", "#333").attr("stroke-width", 0.8);
gC.append("rect").attr("x", xC(optimumBand[0])).attr("y", 1171.7)
  .attr("width", xC(optimumBand[1]) - xC(optimumBand[0])).attr("height", 1598.3 - 1171.7)
  .attr("fill", "url(#hatch)");
gC.append("line").attr("x1", xC(optimumBand[0])).attr("x2", xC(optimumBand[0])).attr("y1", 1171.7).attr("y2", 1598.3)
  .attr("stroke", "#800080").attr("stroke-width", 1.5);
gC.append("line").attr("x1", xC(optimumBand[1])).attr("x2", xC(optimumBand[1])).attr("y1", 1171.7).attr("y2", 1598.3)
  .attr("stroke", "#800080").attr("stroke-width", 1).attr("stroke-dasharray", "2,2");
gC.append("line").attr("x1", xC(optimumCentre)).attr("x2", xC(optimumCentre)).attr("y1", 1176).attr("y2", 1612)
  .attr("stroke", "#800080").attr("stroke-width", 1.5).attr("stroke-dasharray", "2,16");
gC.append("line").attr("x1", xC(thresholdConc)).attr("x2", xC(thresholdConc)).attr("y1", 1174).attr("y2", 1612)
  .attr("stroke", "#ff00ff").attr("stroke-width", 3).attr("stroke-dasharray", "3,14.5");

// label boxes
gC.append("rect").attr("x", 583).attr("y", 1369).attr("width", 84).attr("height", 31).attr("fill", "#fff");
gC.append("rect").attr("x", 606).attr("y", 1500).attr("width", 61).attr("height", 40).attr("fill", "#fff");
addText(gC, 663, 1390.5, `${vanConc} µM`, { size: 20, bold: true, fill: "#800080", anchor: "end" });
addText(gC, 613, 1526, "1 µM", { size: 20, bold: true, fill: "#ff00ff" });

function errorPoints(g, conc, vals, errs, color, o) {
  conc.forEach((c, i) => {
    const cx = xC(c), cy = yC(vals[i]);
    const top = yC(vals[i] + errs[i]), bot = yC(vals[i] - errs[i]);
    const gp = g.append("g");
    if (top < cy - o.ry) gp.append("line").attr("x1", cx).attr("x2", cx).attr("y1", top).attr("y2", cy - o.ry);
    if (bot > cy + o.ry) gp.append("line").attr("x1", cx).attr("x2", cx).attr("y1", cy + o.ry).attr("y2", bot);
    gp.append("ellipse").attr("cx", cx).attr("cy", cy).attr("rx", o.rx).attr("ry", o.ry)
      .attr("fill", o.hollow ? "#fff" : color).attr("stroke", o.hollow ? color : "none").attr("stroke-width", 2);
    [top, bot].forEach(yy => gp.append("line").attr("x1", cx - 5).attr("x2", cx + 5).attr("y1", yy).attr("y2", yy));
    gp.selectAll("line").attr("stroke", color).attr("stroke-width", 2);
  });
}
errorPoints(gC, concVan36, absVan36, errVan36, "#800080", { rx: 6.3, ry: 7.3 });
errorPoints(gC, concVan1, absVan1, errVan1, "#ff00ff", { rx: 5.2, ry: 6.2, hollow: true });

axes(gC, xC, yC, {
  tick: 6, minorTick: 3.5, xOut: true, yOut: true, xPad: 9, yPad: 7,
  xMajor: decades, xMinor: minorLog, xFmt: d => d,
  yMajor: yMajC, yMinor: d3.range(-6, 32, 2).map(i => (i + 1) / 100), yFmt: f2
});
addText(svg, 17, 1155, "C", { size: 19 });
addText(svg, 49.5, 1153, "absorbances for two vancomycin conc. in relation to Gibbs conc.", { size: 21, len: 620 });
addText(svg, 381, 1658, "Gibbs Concentration [µM]", { size: 21.5, anchor: "middle" });
addText(svg, 29, 1396, "Differential Absorbances at 589 nm [AU]", { size: 21.5, anchor: "middle", rot: -90 });
</script>
</body>
</html>
